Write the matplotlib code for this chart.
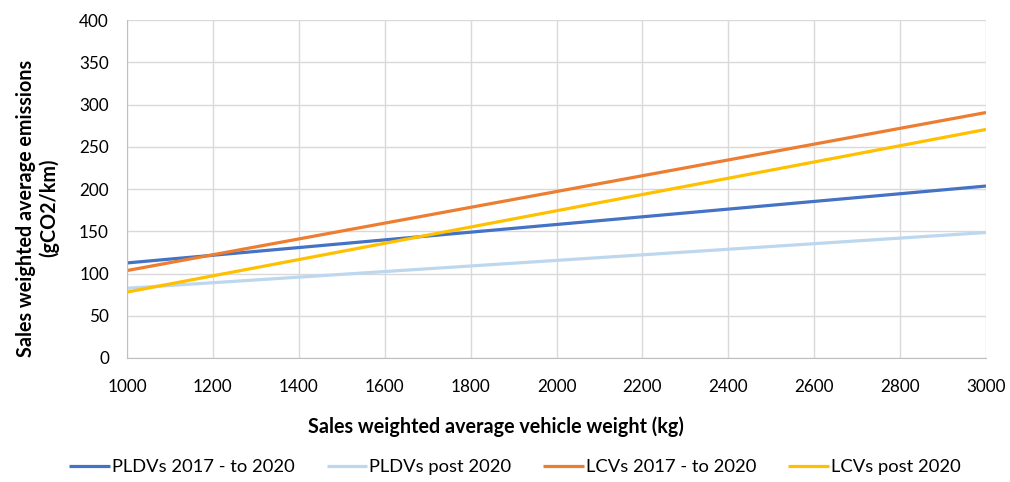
import matplotlib
matplotlib.use("Agg")
import matplotlib.pyplot as plt

# Vehicle weight (kg) at the ends of each target line
weights = [1000, 3000]

# Sales-weighted average emission targets (gCO2/km)
pldv_2017_2020 = [112.5, 203.5]
pldv_post_2020 = [82.5, 148.5]
lcv_2017_2020 = [103.5, 290.5]
lcv_post_2020 = [78.0, 270.5]

series_labels = ["PLDVs 2017 - to 2020", "PLDVs post 2020",
                 "LCVs 2017 - to 2020", "LCVs post 2020"]
series_colors = ["#4472C4", "#BDD7EE", "#ED7D31", "#FFC000"]

x_ticks = list(range(1000, 3001, 200))
y_ticks = list(range(0, 401, 50))

plt.rcParams["font.family"] = ["Lato", "DejaVu Sans"]

fig = plt.figure(figsize=(10.10, 4.82), dpi=100)
ax = fig.add_axes([127 / 1010, 1 - 358 / 482, (986 - 127) / 1010, (358 - 20) / 482])

for vals, lab, col in zip([pldv_2017_2020, pldv_post_2020, lcv_2017_2020, lcv_post_2020],
                          series_labels, series_colors):
    ax.plot(weights, vals, color=col, lw=2.3, label=lab, solid_capstyle="butt")

ax.set_xlim(1000, 3000)
ax.set_ylim(0, 400)
ax.set_xticks(x_ticks)
ax.set_yticks(y_ticks)
ax.grid(True, color="#d9d9d9", lw=1.0)
ax.set_axisbelow(True)
for s in ["top", "right"]:
    ax.spines[s].set_visible(False)
for s in ["left", "bottom"]:
    ax.spines[s].set_color("#bfbfbf")
ax.tick_params(length=0, labelsize=12.3, colors="#000000")
ax.tick_params(axis="x", pad=15)
ax.tick_params(axis="y", pad=13)

fig.text(496 / 1010, 1 - 427 / 482, "Sales weighted average vehicle weight (kg)",
         ha="center", va="center", fontsize=14.2, fontweight="bold")
fig.text(38 / 1010, 1 - 208 / 482, "Sales weighted average emissions\n(gCO2/km)",
         ha="center", va="center", rotation=90, fontsize=14.2, fontweight="bold",
         linespacing=1.15)

fig.legend(loc="center", bbox_to_anchor=(515 / 1010, 1 - 467 / 482), ncol=4,
           frameon=False, fontsize=13.2, handlelength=2.2, handletextpad=0.12,
           columnspacing=1.75)

fig.savefig("out.png", dpi=100)
